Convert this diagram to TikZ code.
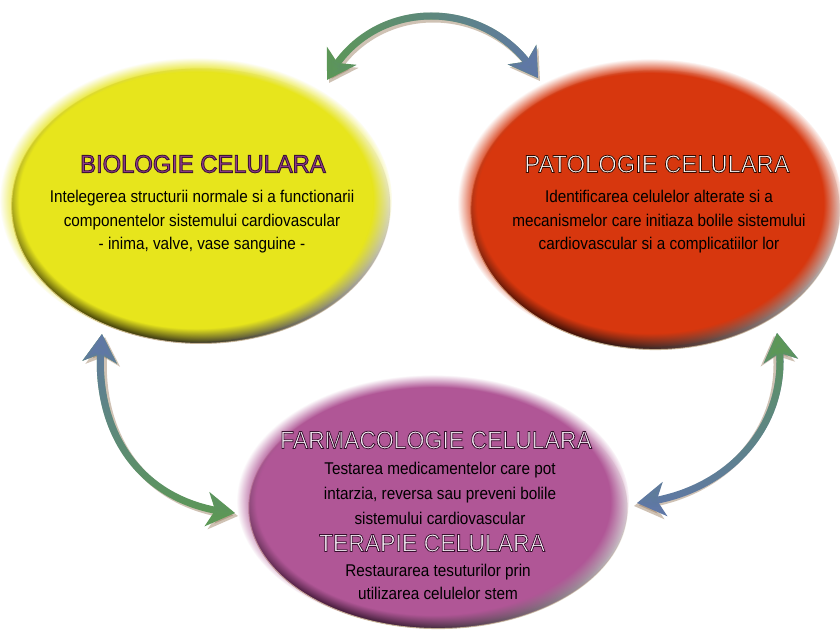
\documentclass[tikz,border=0pt]{standalone}
\usepackage{fontspec}
\setmainfont{Liberation Sans}
\newfontfamily\bodyfont[FakeStretch=0.9]{Liberation Sans}
\newfontfamily\titlefont[FakeStretch=0.95]{Liberation Sans}
\newfontfamily\titlefontn[FakeStretch=0.92]{Liberation Sans}
\usetikzlibrary{arrows.meta,bending,fadings}
\definecolor{yface}{RGB}{231,229,28}
\definecolor{ydark}{RGB}{32,28,0}
\definecolor{rface}{RGB}{215,55,14}
\definecolor{rdark}{RGB}{40,6,0}
\definecolor{pface}{RGB}{176,86,150}
\definecolor{pdark}{RGB}{48,14,40}
\definecolor{rimtan}{RGB}{200,180,150}
\definecolor{agreen}{RGB}{92,152,86}
\definecolor{ablue}{RGB}{96,120,166}
\definecolor{ashadow}{RGB}{150,120,90}
\definecolor{biotitle}{RGB}{150,62,140}
\definecolor{lighttitle}{RGB}{250,248,246}
\definecolor{plighttitle}{RGB}{248,240,248}
\newcommand{\strokedtext}[3]{\special{pdf:literal direct 2 Tr #2 w #1 RG}#3\special{pdf:literal direct 0 Tr}}
\tikzfading[name=fadeLR, left color=transparent!100, right color=transparent!0]
\tikzfading[name=fadeBT, bottom color=transparent!100, top color=transparent!0]
\tikzfading[name=rimfade, top color=transparent!100, middle color=transparent!0, bottom color=transparent!0]
\tikzset{
  arrowshape/.style={line width=7pt,
    {Stealth[length=28pt,width=34pt,inset=8pt]}-{Stealth[length=28pt,width=34pt,inset=8pt]}},
  arrowshadow/.style={arrowshape, draw=ashadow, opacity=0.45},
  bodytext/.style={align=center, inner sep=0pt, text=black},
  titleA/.style={inner sep=0pt, font=\titlefont\fontsize{25}{28}\selectfont},
  titleB/.style={inner sep=0pt, font=\titlefontn\fontsize{25}{28}\selectfont},
  rimpath/.style={draw=rimtan, line width=1pt, path fading=rimfade, fading angle=-45},
  facepath/.style={path fading=circle with fuzzy edge 10 percent},
}
\begin{document}
\begin{tikzpicture}[x=1pt,y=-1pt]
\useasboundingbox (0,0) rectangle (840,632);
\fill[white] (0,0) rectangle (840,632);

% ---------- ellipses ----------
% yellow
\path[fill=ydark, rimpath] (203,206) ellipse [x radius=190, y radius=138];
\fill[yface, facepath] (196,200) ellipse [x radius=196, y radius=142];
% red
\path[fill=rdark, rimpath] (657,210) ellipse [x radius=185, y radius=140];
\fill[rface, facepath] (650,203) ellipse [x radius=192, y radius=144];
% purple
\path[fill=pdark, rimpath] (440,508) ellipse [x radius=190, y radius=121];
\fill[pface, facepath] (433,501) ellipse [x radius=196, y radius=126];

% ---------- arrows ----------
\coordinate (tL) at (327,80);
\coordinate (tR) at (538,78);
\coordinate (lT) at (102,334);
\coordinate (lB) at (235,513);
\coordinate (rT) at (777,333);
\coordinate (rB) at (637,503);

% top arrow
\draw[arrowshadow] ([shift={(2,3)}]tL) .. controls (372,-2) and (492,-2) .. ([shift={(2,3)}]tR);
\draw[arrowshape, draw=agreen] (tL) .. controls (370,-5) and (490,-5) .. (tR);
\draw[arrowshape, draw=ablue, path fading=fadeLR] (tL) .. controls (370,-5) and (490,-5) .. (tR);
% left arrow
\draw[arrowshadow] ([shift={(3,3)}]lT) .. controls (93,433) and (143,508) .. ([shift={(3,3)}]lB);
\draw[arrowshape, draw=agreen] (lT) .. controls (90,430) and (140,505) .. (lB);
\draw[arrowshape, draw=ablue, path fading=fadeBT] (lT) .. controls (90,430) and (140,505) .. (lB);
% right arrow
\draw[arrowshadow] ([shift={(-3,3)}]rB) .. controls (727,498) and (792,423) .. ([shift={(-3,3)}]rT);
\draw[arrowshape, draw=ablue] (rB) .. controls (730,495) and (795,420) .. (rT);
\draw[arrowshape, draw=agreen, path fading=fadeBT] (rB) .. controls (730,495) and (795,420) .. (rT);

% ---------- texts ----------
% biologie
\node[titleA, text=biotitle] (bioT) at (203,164)
  {\strokedtext{0.24 0.08 0.22}{0.9}{BIOLOGIE CELULARA}};
\node[bodytext, font=\bodyfont\fontsize{17}{23.5}\selectfont] (bioB) at (202,222)
  {Intelegerea structurii normale si a functionarii\\
   componentelor sistemului cardiovascular\\
   - inima, valve, vase sanguine -};
% patologie
\node[titleA, text=lighttitle] (patT) at (657,164)
  {\strokedtext{0.2 0.04 0.0}{0.75}{PATOLOGIE CELULARA}};
\node[bodytext, font=\bodyfont\fontsize{17}{23.5}\selectfont] (patB) at (659,222)
  {Identificarea celulelor alterate si a\\
   mecanismelor care initiaza bolile sistemului\\
   cardiovascular si a complicatiilor lor};
% farmacologie
\node[titleB, text=plighttitle] (farT) at (436,440)
  {\strokedtext{0.22 0.06 0.18}{0.75}{FARMACOLOGIE CELULARA}};
\node[bodytext, font=\bodyfont\fontsize{17}{25}\selectfont] (farB) at (440,493)
  {Testarea medicamentelor care pot\\
   intarzia, reversa sau preveni bolile\\
   sistemului cardiovascular};
\node[titleB, text=plighttitle] (terT) at (432,543)
  {\strokedtext{0.22 0.06 0.18}{0.75}{TERAPIE CELULARA}};
\node[bodytext, font=\bodyfont\fontsize{17}{23}\selectfont] (terB) at (438,581.5)
  {Restaurarea tesuturilor prin\\
   utilizarea celulelor stem};
\end{tikzpicture}
\end{document}
